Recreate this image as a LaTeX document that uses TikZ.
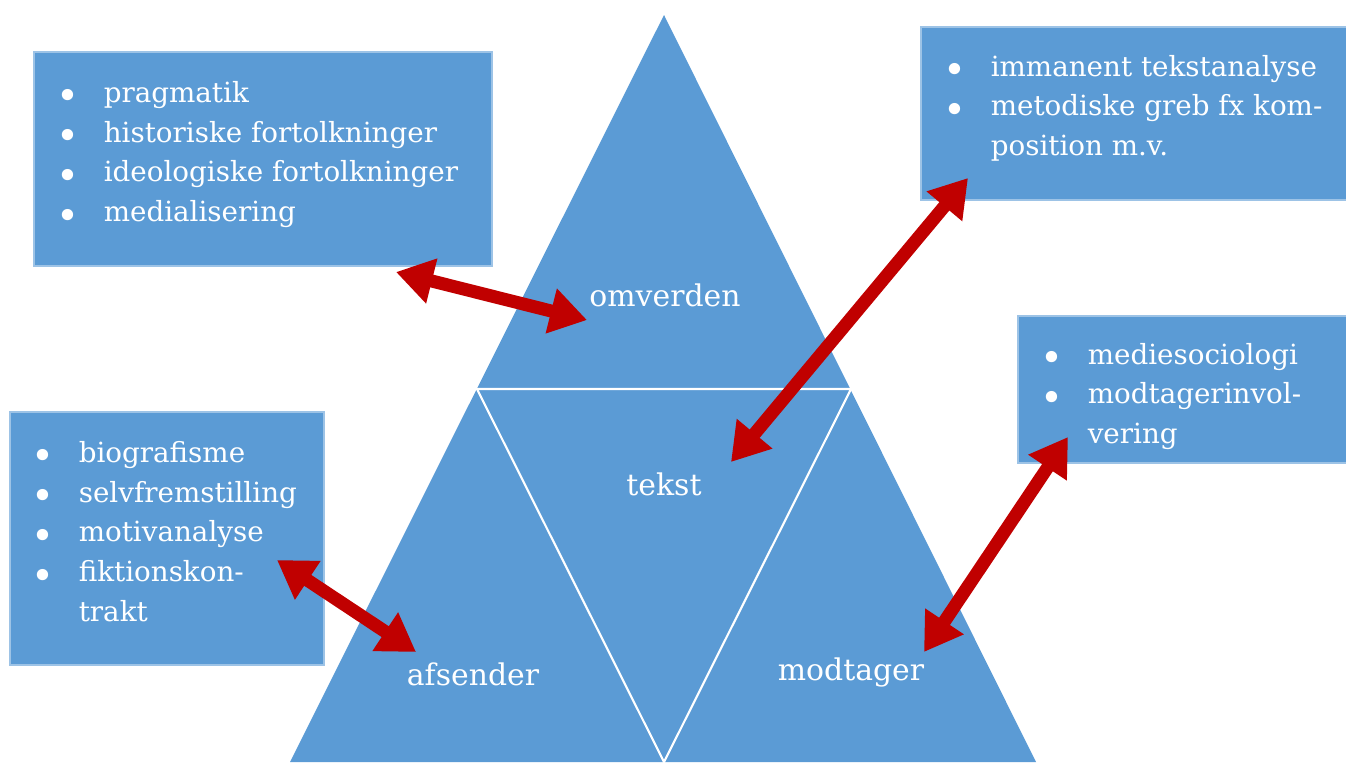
\documentclass[tikz,border=0pt]{standalone}
\usepackage{graphicx}
\usepackage{fontspec}
\setmainfont{DejaVu Serif}
\usetikzlibrary{arrows.meta}
\definecolor{kasseblaa}{HTML}{5B9BD5}
\definecolor{kassekant}{HTML}{9DC3E6}
\definecolor{pilrod}{HTML}{C00000}
\newcommand{\punkt}{\raisebox{-.26em}{\scalebox{1.4}{\textbullet}}}

\begin{document}
\begin{tikzpicture}[x=0.02cm,y=-0.02cm,
        kasse/.style={fill=kasseblaa, draw=kassekant, line width=.6pt},
        punkter/.style={anchor=west, inner sep=0pt, text=white, align=left,
          font=\fontsize{15.8}{22.7}\selectfont},
        etiket/.style={text=white, inner sep=0pt, font=\fontsize{17}{20}\selectfont},
        dobbeltpil/.style={draw=pilrod, line width=7.4pt,
          {Triangle[length=21pt,width=25pt]}-{Triangle[length=21pt,width=25pt]}}]
        \useasboundingbox (0,0) rectangle (1346,762);

        % trekanten
        \fill[kasseblaa] (664,15) -- (1036,762) -- (290,762) -- cycle;
        \draw[white, line width=1.2pt] (477,389) -- (851,389) -- (664,762) -- cycle;

        \node[etiket] (omverden) at (665,295) {omverden};
        \node[etiket] (tekst)    at (664,484) {tekst};
        \node[etiket] (afsender) at (473,674) {afsender};
        \node[etiket] (modtager) at (851,672) {modtager};

        % kasserne
        \draw[kasse] (34,52)    rectangle (492,266);
        \node[punkter] (omvliste) at (56,154) {\begin{tabular}{@{}p{27pt}@{}l@{}}
            \punkt & pragmatik\\
            \punkt & historiske fortolkninger\\
            \punkt & ideologiske fortolkninger\\
            \punkt & medialisering
          \end{tabular}};

        \draw[kasse] (921,27)   rectangle (1352,200);
        \node[punkter] (tekstliste) at (943,108) {\begin{tabular}{@{}p{27pt}@{}l@{}}
            \punkt & immanent tekstanalyse\\
            \punkt & metodiske greb fx kom-\\
                   & position m.v.
          \end{tabular}};

        \draw[kasse] (1018,316) rectangle (1352,463);
        \node[punkter] (modliste) at (1040,396) {\begin{tabular}{@{}p{27pt}@{}l@{}}
            \punkt & mediesociologi\\
            \punkt & modtagerinvol-\\
                   & vering
          \end{tabular}};

        \draw[kasse] (10,412)   rectangle (324,665);
        \node[punkter] (afsliste) at (31,534) {\begin{tabular}{@{}p{27pt}@{}l@{}}
            \punkt & biografisme\\
            \punkt & selvfremstilling\\
            \punkt & motivanalyse\\
            \punkt & fiktionskon-\\
                   & trakt
          \end{tabular}};

        % pilene
        \coordinate (omvA) at (396,272);  \coordinate (omvB) at (587,320);
        \coordinate (tekA) at (968,178);  \coordinate (tekB) at (731,462);
        \coordinate (afsA) at (277,560);  \coordinate (afsB) at (416,652);
        \coordinate (modA) at (1068,437); \coordinate (modB) at (924,652);
        \draw[dobbeltpil] (omvA) -- (omvB);
        \draw[dobbeltpil] (tekA) -- (tekB);
        \draw[dobbeltpil] (afsA) -- (afsB);
        \draw[dobbeltpil] (modA) -- (modB);
      \end{tikzpicture}
\end{document}
